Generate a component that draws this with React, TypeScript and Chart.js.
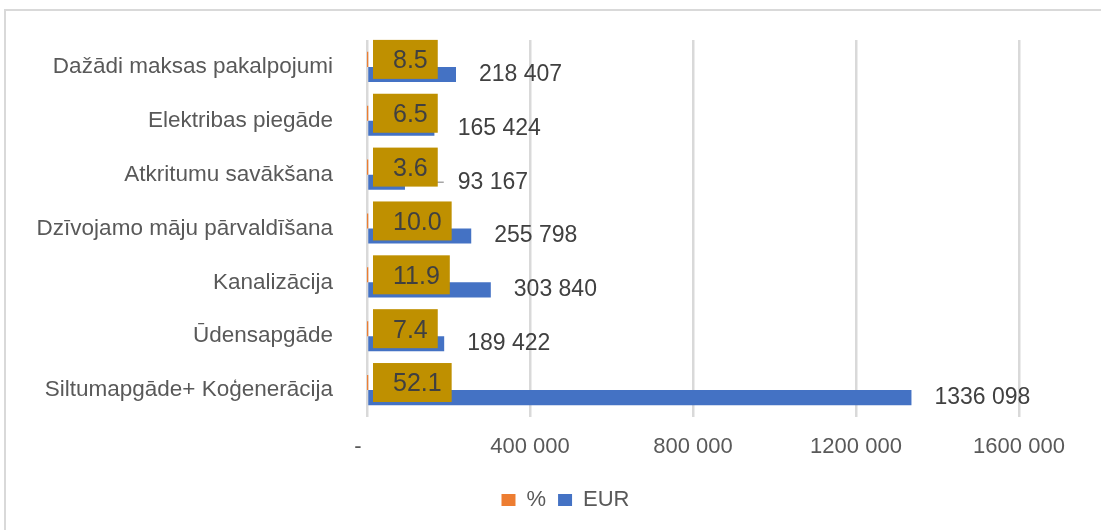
import React, { useEffect, useRef } from 'react';
import { Chart, registerables } from 'chart.js';

Chart.register(...registerables);

const categories = [
  'Dažādi maksas pakalpojumi',
  'Elektribas piegāde',
  'Atkritumu savākšana',
  'Dzīvojamo māju pārvaldīšana',
  'Kanalizācija',
  'Ūdensapgāde',
  'Siltumapgāde+ Koģenerācija',
];
const percentValues = [8.5, 6.5, 3.6, 10.0, 11.9, 7.4, 52.1];
const eurValues = [218407, 165424, 93167, 255798, 303840, 189422, 1336098];
const xTickValues = [0, 400000, 800000, 1200000, 1600000];
const seriesNames = ['%', 'EUR'];

const FONT = "'Liberation Sans', Arial, sans-serif";

function fmtEur(v: number): string {
  if (v === 0) return '-   ';
  const th = Math.floor(v / 1000);
  const r = v % 1000;
  return th + ' ' + String(r).padStart(3, '0');
}

const labelPlugin = {
  id: 'customLabels',
  afterLayout(chart: any) {
    // shift legend to match the original placement
    if (chart.legend) {
      chart.legend.left += 50;
      chart.legend.right += 50;
    }
  },
  afterDatasetsDraw(chart: any) {
    const ctx = chart.ctx;
    const m0 = chart.getDatasetMeta(0);
    const m1 = chart.getDatasetMeta(1);
    const x0 = chart.scales.x.getPixelForValue(0);
    ctx.save();
    for (let i = 0; i < categories.length; i++) {
      const b0 = m0.data[i];
      const b1 = m1.data[i];
      const pText = percentValues[i].toFixed(1);
      ctx.font = `25px ${FONT}`;
      const tw = ctx.measureText(pText).width;
      const bx = x0 + 6;
      const bw = tw + 30;
      const bh = 39;
      const by = b0.y - bh / 2;

      const lx = Math.max(b1.x + 23, bx + bw + 20);
      if (lx > b1.x + 30) {
        ctx.strokeStyle = '#a6a6a6';
        ctx.lineWidth = 1.5;
        ctx.beginPath();
        ctx.moveTo(b1.x + 4, b1.y);
        ctx.lineTo(lx - 14, b1.y);
        ctx.stroke();
      }

      ctx.fillStyle = '#BF9000';
      ctx.fillRect(bx, by, bw, bh);
      ctx.fillStyle = '#404040';
      ctx.textAlign = 'left';
      ctx.textBaseline = 'middle';
      ctx.fillText(pText, bx + 20, b0.y + 2);

      ctx.font = `23px ${FONT}`;
      ctx.fillStyle = '#404040';
      ctx.fillText(fmtEur(eurValues[i]), lx, b1.y);
    }
    ctx.restore();
  },
};

export default function App() {
  const ref = useRef<HTMLCanvasElement>(null);
  useEffect(() => {
    if (!ref.current) return;
    const chart = new Chart(ref.current, {
      type: 'bar',
      data: {
        labels: categories,
        datasets: [
          {
            label: seriesNames[0],
            data: percentValues,
            backgroundColor: '#ED7D31',
            categoryPercentage: 0.56,
            barPercentage: 1,
          },
          {
            label: seriesNames[1],
            data: eurValues,
            backgroundColor: '#4472C4',
            categoryPercentage: 0.56,
            barPercentage: 1,
          },
        ],
      },
      options: {
        indexAxis: 'y',
        animation: false,
        responsive: false,
        maintainAspectRatio: false,
        layout: { padding: { left: 6, right: 82, top: 29, bottom: 9 } },
        scales: {
          x: {
            min: 0,
            max: 1600000,
            afterBuildTicks(scale: any) {
              scale.ticks = xTickValues.map((v) => ({ value: v }));
            },
            afterFit(scale: any) {
              scale.height = 60;
            },
            grid: { color: '#d9d9d9', lineWidth: 2.5, drawTicks: false },
            border: { display: false },
            ticks: {
              padding: 17,
              color: '#595959',
              font: { family: FONT, size: 22 },
              callback: (v: any) => fmtEur(Number(v)),
              maxRotation: 0,
            },
          },
          y: {
            afterFit(scale: any) {
              scale.width = 355;
            },
            grid: {
              display: true,
              drawOnChartArea: false,
              drawTicks: true,
              tickLength: 34,
              color: 'rgba(0,0,0,0)',
            },
            border: { display: false },
            ticks: {
              padding: 0,
              color: '#595959',
              font: { family: FONT, size: 22.5 },
            },
          },
        },
        plugins: {
          legend: {
            position: 'bottom',
            labels: {
              boxWidth: 14,
              boxHeight: 12,
              padding: 12,
              color: '#595959',
              font: { family: FONT, size: 22 },
            },
          },
          tooltip: { enabled: false },
        },
      },
      plugins: [labelPlugin],
    });
    return () => chart.destroy();
  }, []);
  return (
    <div
      style={{
        position: 'absolute',
        left: 4,
        top: 9,
        width: 1095,
        height: 519,
        borderLeft: '2px solid #d9d9d9',
        borderTop: '2px solid #d9d9d9',
        background: '#fff',
      }}
    >
      <canvas ref={ref} width={1095} height={519} style={{ display: 'block' }} />
    </div>
  );
}
